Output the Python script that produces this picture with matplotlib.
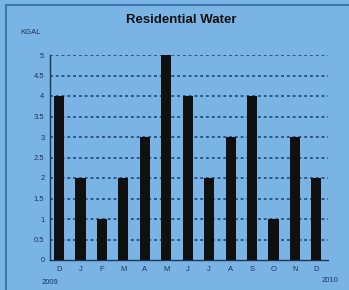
import matplotlib
matplotlib.use("Agg")
import matplotlib.pyplot as plt
from matplotlib.lines import Line2D
import numpy as np

months = ["D", "J", "F", "M", "A", "M", "J", "J", "A", "S", "O", "N", "D"]
values = [4, 2, 1, 2, 3, 5, 4, 2, 3, 4, 1, 3, 2]
yticks = [0, 0.5, 1, 1.5, 2, 2.5, 3, 3.5, 4, 4.5, 5]
ytick_labels = ["0", "0.5", "1", "1.5", "2", "2.5", "3", "3.5", "4", "4.5", "5"]
title = "Residential Water"
unit = "KGAL"
year_start = "2009"
year_end = "2010"

bg = "#7ab4e4"
ink = "#1c3558"
W, H = 349, 290

fig = plt.figure(figsize=(W / 100, H / 100), dpi=100, facecolor=bg)
ax = fig.add_axes([50 / W, 1 - 260 / H, 278 / W, 205 / H], facecolor=bg)

x = np.arange(len(months))
ax.bar(x, values, width=0.47, color="#101010", zorder=3)
ax.set_xlim(-0.42, len(months) - 1 + 0.54)
ax.set_ylim(0, 5)
ax.set_yticks(yticks)
ax.set_yticklabels(ytick_labels)
ax.set_xticks(x)
ax.set_xticklabels(months)
ax.tick_params(axis="both", labelsize=5.5, colors=ink, length=0, pad=4,
               labelfontfamily="Liberation Sans")
for yv in yticks[1:]:
    ax.axhline(yv, color="#24507f", lw=1.3, ls=(0, (1.6, 1.6)), zorder=1)
for s in ["top", "right"]:
    ax.spines[s].set_visible(False)
for s in ["left", "bottom"]:
    ax.spines[s].set_color(ink)
    ax.spines[s].set_linewidth(1.0)

fig.text(181 / W, 1 - 20 / H, title, ha="center", va="center",
         fontsize=9.5, fontweight="bold", family="Liberation Sans", color="#111111")
fig.text(31 / W, 1 - 32 / H, unit, ha="center", va="center",
         fontsize=5.5, family="Liberation Sans", color=ink)
fig.text(50 / W, 1 - 283 / H, year_start, ha="center", va="center",
         fontsize=5.5, family="Liberation Sans", color=ink)
fig.text(330 / W, 1 - 281 / H, year_end, ha="center", va="center",
         fontsize=5.5, family="Liberation Sans", color=ink)

# frame lines (left and top)
fig.add_artist(Line2D([5.5 / W, 5.5 / W], [0, 1 - 4.5 / H], color="#3f76ad", lw=1.5,
                      transform=fig.transFigure))
fig.add_artist(Line2D([5.5 / W, 1], [1 - 4.5 / H, 1 - 4.5 / H], color="#3f76ad", lw=1.5,
                      transform=fig.transFigure))

fig.savefig("out.png", dpi=100, facecolor=bg)
